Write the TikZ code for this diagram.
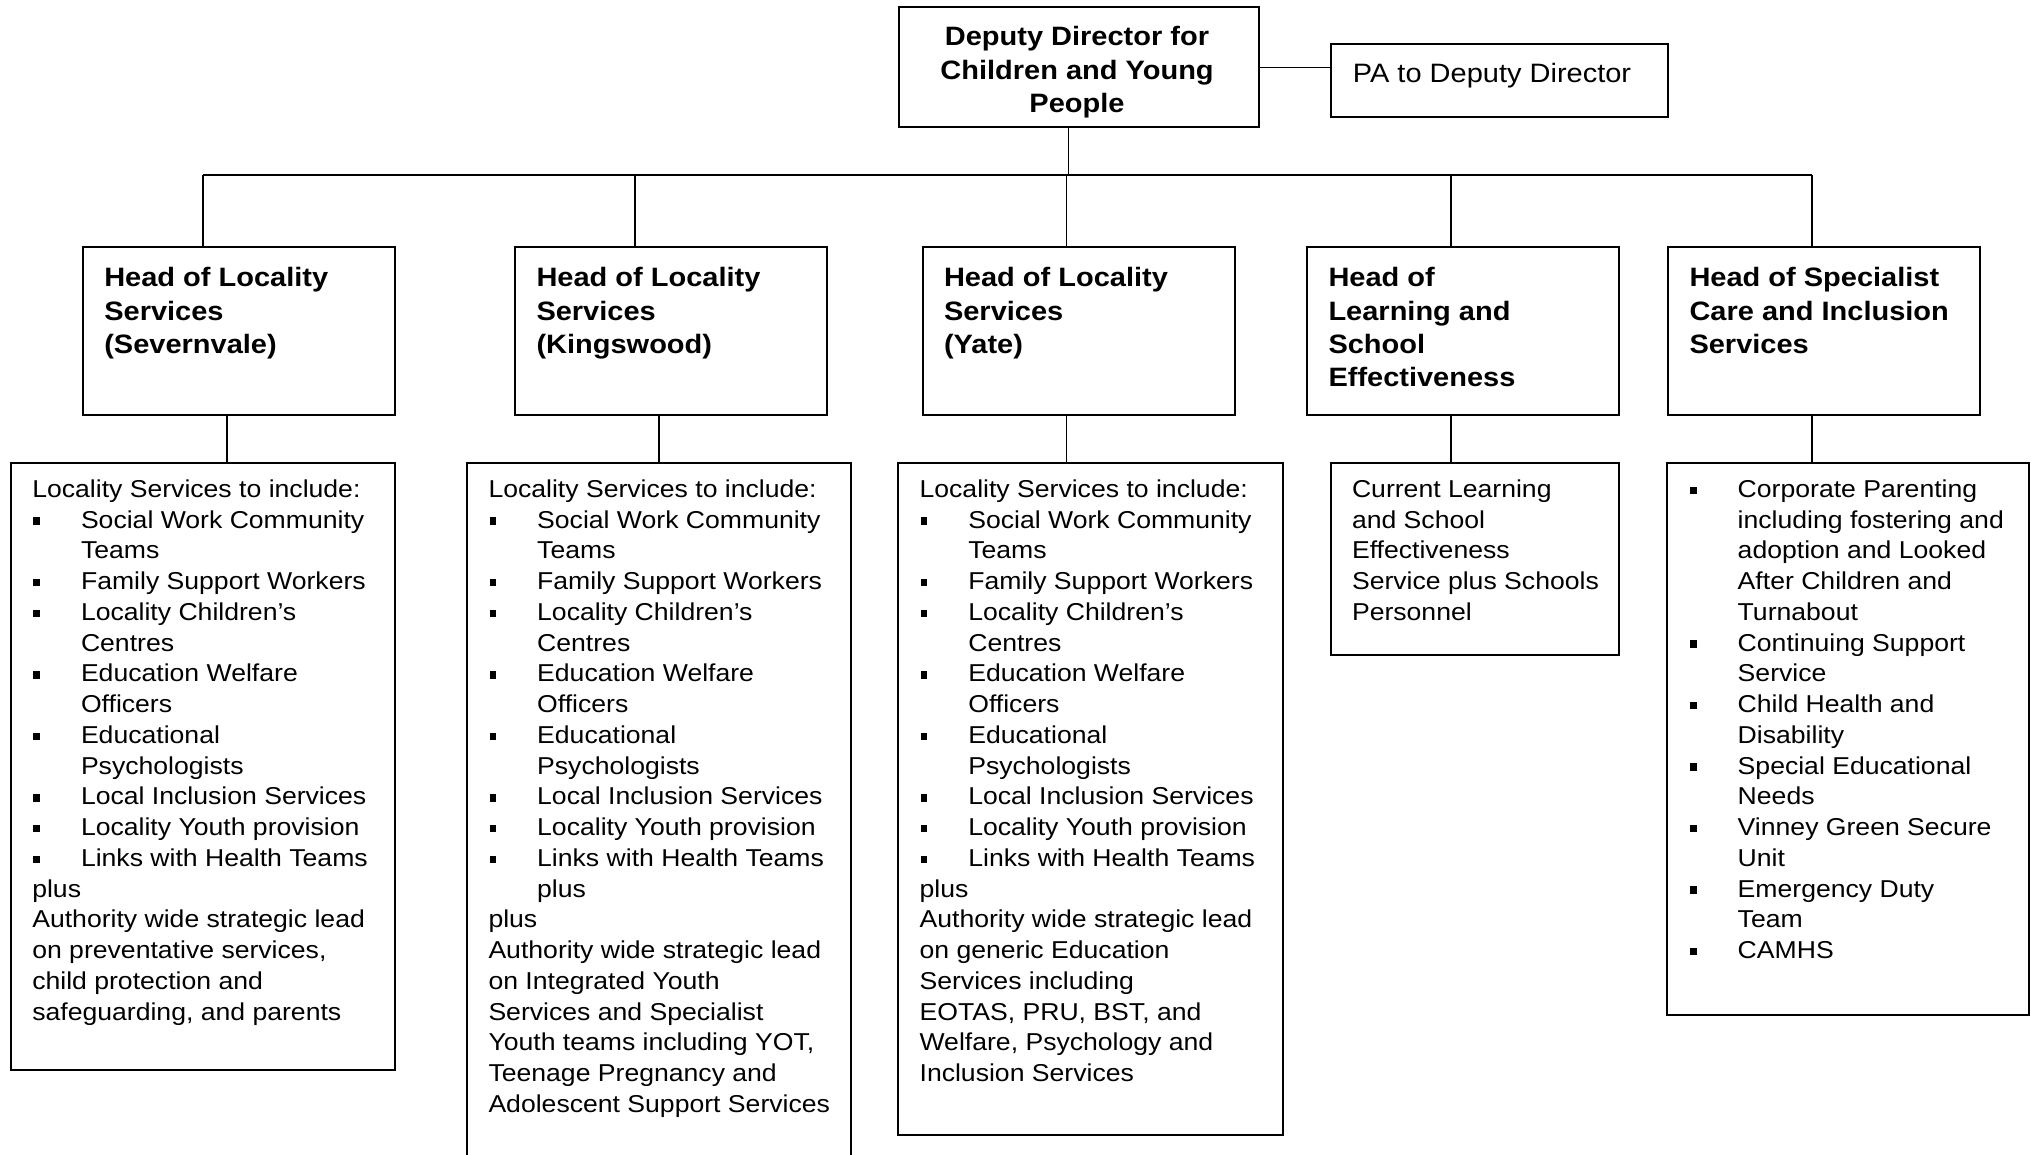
\documentclass[tikz,border=0pt]{standalone}
\usepackage{fontspec}
\setmainfont{Liberation Sans}[FakeStretch=1.09]
\newcommand\orgbody{\fontsize{24.4pt}{30.75pt}\selectfont}
\newcommand\orghead{\fontsize{26.6pt}{33.4pt}\selectfont\bfseries}
\newcommand\orgpa{\fontsize{26.6pt}{33.4pt}\selectfont}
\newcommand\orgL[1]{\hbox{#1}}
\newcommand\orgB[1]{\hbox{\makebox[48.7pt][l]{\hspace*{1pt}\rule[3.3pt]{6.8pt}{7.4pt}}#1}}
\newcommand\orgC[1]{\hbox{\hspace*{48.7pt}#1}}
\newcommand\orgM[1]{\hbox to 350pt{\hss#1\hss}}
\begin{document}
\begin{tikzpicture}[x=1pt,y=-1pt,
  box/.style={draw, line width=2pt, rectangle, inner sep=0pt, outer sep=0pt, anchor=north west},
  conn/.style={line width=1.4pt},
  txt/.style={anchor=base west, inner sep=0pt, outer sep=0pt, font=\orgbody},
  htxt/.style={anchor=base west, inner sep=0pt, outer sep=0pt, font=\orghead}]
\useasboundingbox (0,0) rectangle (2031,1155);
\fill[white] (0,0) rectangle (2031,1155);
\clip (0,0) rectangle (2031,1155);

% top boxes
\node[box, minimum width=360pt, minimum height=120pt] (dd) at (899.3,7.3) {};
\node[box, minimum width=337.3pt, minimum height=72.7pt] (pa) at (1331,44) {};
\node[anchor=base, inner sep=0pt, font=\orghead] (ddt) at (1077,45.7)
  {\vtop{\orgM{Deputy Director for}\orgM{Children and Young}\orgM{People}}};
\node[anchor=base west, inner sep=0pt, font=\orgpa] (pat) at (1352.7,82.3) {PA to Deputy Director};

% head boxes
\node[box, minimum width=312pt, minimum height=168pt] (h1) at (83,247) {};
\node[box, minimum width=312pt, minimum height=168pt] (h2) at (515,247) {};
\node[box, minimum width=312.4pt, minimum height=168pt] (h3) at (922.6,247) {};
\node[box, minimum width=312pt, minimum height=168pt] (h4) at (1307,247) {};
\node[box, minimum width=312pt, minimum height=168pt] (h5) at (1668,247) {};

\node[htxt] (h1t) at (104.3,286.7) {\vtop{\orgL{Head of Locality}\orgL{Services}\orgL{(Severnvale)}}};
\node[htxt] (h2t) at (536.5,286.7) {\vtop{\orgL{Head of Locality}\orgL{Services}\orgL{(Kingswood)}}};
\node[htxt] (h3t) at (944,286.7) {\vtop{\orgL{Head of Locality}\orgL{Services}\orgL{(Yate)}}};
\node[htxt] (h4t) at (1328.5,286.7) {\vtop{\orgL{Head of}\orgL{Learning and}\orgL{School}\orgL{Effectiveness}}};
\node[htxt] (h5t) at (1689.5,286.7) {\vtop{\orgL{Head of Specialist}\orgL{Care and Inclusion}\orgL{Services}}};

% lower boxes
\node[box, minimum width=384.5pt, minimum height=607pt] (l1) at (10.5,463) {};
\node[box, minimum width=384pt, minimum height=720pt] (l2) at (467,463) {};
\node[box, minimum width=385pt, minimum height=672pt] (l3) at (898,463) {};
\node[box, minimum width=288pt, minimum height=192pt] (l4) at (1331,463) {};
\node[box, minimum width=362pt, minimum height=552pt] (l5) at (1667,463) {};

\node[txt] (l1t) at (32.3,497.3) {\vtop{%
\orgL{Locality Services to include:}
\orgB{Social Work Community}
\orgC{Teams}
\orgB{Family Support Workers}
\orgB{Locality Children’s}
\orgC{Centres}
\orgB{Education Welfare}
\orgC{Officers}
\orgB{Educational}
\orgC{Psychologists}
\orgB{Local Inclusion Services}
\orgB{Locality Youth provision}
\orgB{Links with Health Teams}
\orgL{plus}
\orgL{Authority wide strategic lead}
\orgL{on preventative services,}
\orgL{child protection and}
\orgL{safeguarding, and parents}}};

\node[txt] (l2t) at (488.5,497.3) {\vtop{%
\orgL{Locality Services to include:}
\orgB{Social Work Community}
\orgC{Teams}
\orgB{Family Support Workers}
\orgB{Locality Children’s}
\orgC{Centres}
\orgB{Education Welfare}
\orgC{Officers}
\orgB{Educational}
\orgC{Psychologists}
\orgB{Local Inclusion Services}
\orgB{Locality Youth provision}
\orgB{Links with Health Teams}
\orgC{plus}
\orgL{plus}
\orgL{Authority wide strategic lead}
\orgL{on Integrated Youth}
\orgL{Services and Specialist}
\orgL{Youth teams including YOT,}
\orgL{Teenage Pregnancy and}
\orgL{Adolescent Support Services}}};

\node[txt] (l3t) at (919.6,497.3) {\vtop{%
\orgL{Locality Services to include:}
\orgB{Social Work Community}
\orgC{Teams}
\orgB{Family Support Workers}
\orgB{Locality Children’s}
\orgC{Centres}
\orgB{Education Welfare}
\orgC{Officers}
\orgB{Educational}
\orgC{Psychologists}
\orgB{Local Inclusion Services}
\orgB{Locality Youth provision}
\orgB{Links with Health Teams}
\orgL{plus}
\orgL{Authority wide strategic lead}
\orgL{on generic Education}
\orgL{Services including}
\orgL{EOTAS, PRU, BST, and}
\orgL{Welfare, Psychology and}
\orgL{Inclusion Services}}};

\node[txt] (l4t) at (1352,497.3) {\vtop{%
\orgL{Current Learning}
\orgL{and School}
\orgL{Effectiveness}
\orgL{Service plus Schools}
\orgL{Personnel}}};

\node[txt] (l5t) at (1689,497.3) {\vtop{%
\orgB{Corporate Parenting}
\orgC{including fostering and}
\orgC{adoption and Looked}
\orgC{After Children and}
\orgC{Turnabout}
\orgB{Continuing Support}
\orgC{Service}
\orgB{Child Health and}
\orgC{Disability}
\orgB{Special Educational}
\orgC{Needs}
\orgB{Vinney Green Secure}
\orgC{Unit}
\orgB{Emergency Duty}
\orgC{Team}
\orgB{CAMHS}}};

% connectors
\coordinate (jn) at (1068.3,175);
\coordinate (jl) at (203,175);
\coordinate (jr) at (1812,175);
\draw[conn] (dd.east) -- (dd.east -| pa.west);
\draw[conn] (dd.south -| jn) -- (jn);
\draw[conn] (jl) -- (jr);
\foreach \x/\n in {203/h1, 635/h2, 1066.5/h3, 1451/h4, 1812/h5}{
  \coordinate (d\n) at (\x,175);
  \draw[conn] (d\n) -- (d\n |- \n.north);
}
\foreach \x/\a/\b in {227/h1/l1, 659/h2/l2, 1066.5/h3/l3, 1451/h4/l4, 1812/h5/l5}{
  \coordinate (e\a) at (\x,415);
  \draw[conn] (e\a |- \a.south) -- (e\a |- \b.north);
}
\end{tikzpicture}
\end{document}
